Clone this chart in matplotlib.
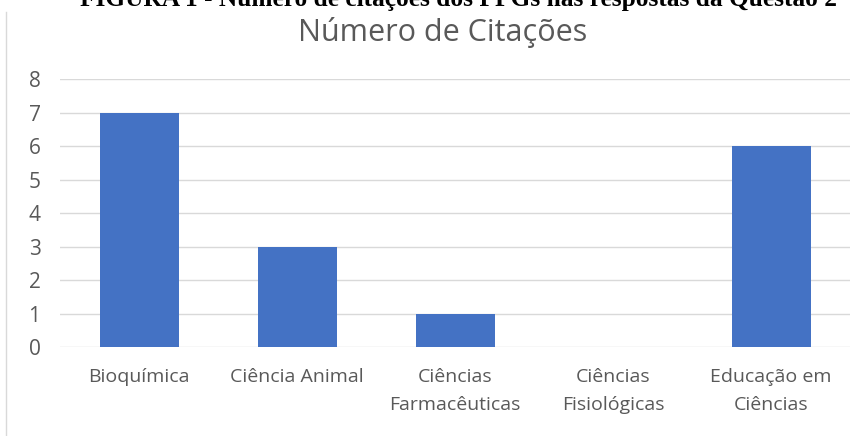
import matplotlib.pyplot as plt
from matplotlib.lines import Line2D

categories = ['Bioquímica', 'Ciência Animal', 'Ciências\nFarmacêuticas',
              'Ciências\nFisiológicas', 'Educação em\nCiências']
citations = [7, 3, 1, 0, 6]
y_ticks = [0, 1, 2, 3, 4, 5, 6, 7, 8]

plt.rcParams['font.family'] = ['Open Sans', 'DejaVu Sans']

fig = plt.figure(figsize=(8.61, 4.36), dpi=100)
ax = fig.add_axes([60 / 861, 1 - 347 / 436, 790 / 861, 268 / 436])

x = range(len(categories))
ax.bar(x, citations, width=0.5, color='#4472C4', zorder=3)

ax.set_xlim(-0.5, len(categories) - 0.5)
ax.set_ylim(0, 8)
ax.set_yticks(y_ticks)
ax.set_xticks(list(x))
ax.set_xticklabels(categories, linespacing=1.75)
ax.tick_params(axis='both', length=0, colors='#595959', labelsize=14)
ax.tick_params(axis='y', labelsize=15)
ax.tick_params(axis='x', pad=15)
ax.tick_params(axis='y', pad=14)
ax.grid(axis='y', color='#d9d9d9', linewidth=1, zorder=0)
for s in ax.spines.values():
    s.set_visible(False)

fig.text(443 / 861, 1 - 32 / 436, 'Número de Citações', ha='center', va='center',
         fontsize=22, color='#595959')

# caption of the document, cut at top edge
fig.text(459 / 861, 1 - 6 / 436,
         'FIGURA 1 - Número de citações dos PPGs nas respostas da Questão 2',
         ha='center', va='baseline', fontsize=18.3, fontweight='bold',
         family='Liberation Serif', color='black')

fig.add_artist(Line2D([6 / 861, 6 / 861], [0, 1 - 12 / 436],
                      transform=fig.transFigure, color='#d9d9d9', linewidth=1))

fig.savefig('out.png', dpi=100)
